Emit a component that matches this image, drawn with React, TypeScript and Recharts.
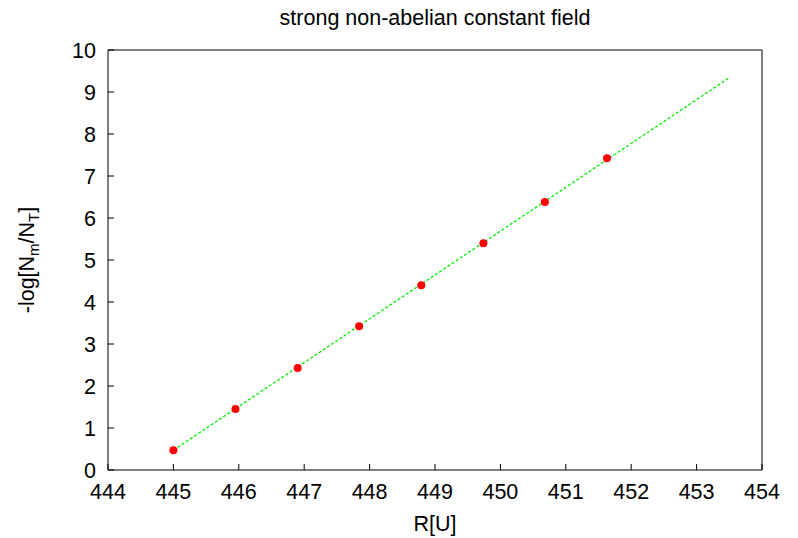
import {
  ComposedChart,
  Scatter,
  Line,
  XAxis,
  YAxis,
} from "recharts";

// measured points (R[U] vs -log[Nm/NT])
const rValues = [445.0, 445.95, 446.9, 447.84, 448.79, 449.74, 450.68, 451.63];
const logRatio = [0.47, 1.45, 2.43, 3.42, 4.4, 5.4, 6.38, 7.42];

// linear fit endpoints
const fitR = [445.0, 453.5];
const fitLog = [0.47, 9.34];

const xTicks = [444, 445, 446, 447, 448, 449, 450, 451, 452, 453, 454];
const yTicks = [0, 1, 2, 3, 4, 5, 6, 7, 8, 9, 10];

const points = rValues.map((r, i) => ({ r, v: logRatio[i] }));
const fit = fitR.map((r, i) => ({ r, v: fitLog[i] }));

const FONT = "'Liberation Sans', Arial, Helvetica, sans-serif";
const FS = 21.5;
const tickStyle = { fontSize: FS, fill: "#000", fontFamily: FONT };

function YLabel(props: any) {
  const vb = props.viewBox || {};
  const cx = vb.x + 34;
  const cy = vb.y + vb.height / 2;
  return (
    <text
      x={cx}
      y={cy}
      transform={`rotate(-90, ${cx}, ${cy})`}
      textAnchor="middle"
      fontFamily={FONT}
      fontSize={FS}
      fill="#000"
    >
      <tspan>-log[N</tspan>
      <tspan dy={5} fontSize={15}>m</tspan>
      <tspan dy={-5}>/N</tspan>
      <tspan dy={5} fontSize={15}>T</tspan>
      <tspan dy={-5}>]</tspan>
    </text>
  );
}

function XLabel(props: any) {
  const vb = props.viewBox || {};
  return (
    <text
      x={vb.x + vb.width / 2}
      y={531}
      textAnchor="middle"
      fontFamily={FONT}
      fontSize={FS}
      fill="#000"
    >
      R[U]
    </text>
  );
}

export default function App() {
  return (
    <div
      style={{
        position: "absolute",
        left: 0,
        top: 0,
        width: 798,
        height: 538,
        background: "#fff",
      }}
    >
      <div
        style={{
          position: "absolute",
          top: 8,
          left: 108,
          width: 654,
          textAlign: "center",
          fontFamily: FONT,
          fontSize: FS,
          lineHeight: "20px",
          color: "#000",
        }}
      >
        strong non-abelian constant field
      </div>
      <ComposedChart
        width={798}
        height={538}
        margin={{ top: 49, right: 35, left: 0, bottom: 0 }}
      >
        <XAxis
          xAxisId="bottom"
          dataKey="r"
          type="number"
          domain={[444, 454]}
          ticks={xTicks}
          interval={0}
          allowDataOverflow
          height={68}
          stroke="#000"
          tickSize={-6}
          tickMargin={20}
          tick={tickStyle}
          label={<XLabel />}
        />
        <XAxis
          xAxisId="top"
          orientation="top"
          type="number"
          domain={[444, 454]}
          ticks={xTicks}
          interval={0}
          allowDataOverflow
          height={1}
          stroke="#000"
          tickSize={-6}
          tick={false}
        />
        <YAxis
          yAxisId="left"
          type="number"
          domain={[0, 10]}
          ticks={yTicks}
          interval={0}
          allowDataOverflow
          width={108}
          stroke="#000"
          tickSize={-6}
          tickMargin={18}
          tick={tickStyle}
          label={<YLabel />}
        />
        <YAxis
          yAxisId="right"
          orientation="right"
          type="number"
          domain={[0, 10]}
          ticks={yTicks}
          interval={0}
          allowDataOverflow
          width={1}
          stroke="#000"
          tickSize={-6}
          tick={false}
        />
        <Line
          xAxisId="bottom"
          yAxisId="left"
          data={fit}
          dataKey="v"
          type="linear"
          stroke="#00ee00"
          strokeWidth={1.3}
          strokeDasharray="3 2"
          dot={false}
          activeDot={false}
          isAnimationActive={false}
        />
        <Scatter
          xAxisId="bottom"
          yAxisId="left"
          data={points}
          dataKey="v"
          fill="#ff0000"
          shape={(p: any) => (
            <circle cx={p.cx} cy={p.cy} r={4} fill="#ff0000" />
          )}
          isAnimationActive={false}
        />
      </ComposedChart>
    </div>
  );
}
